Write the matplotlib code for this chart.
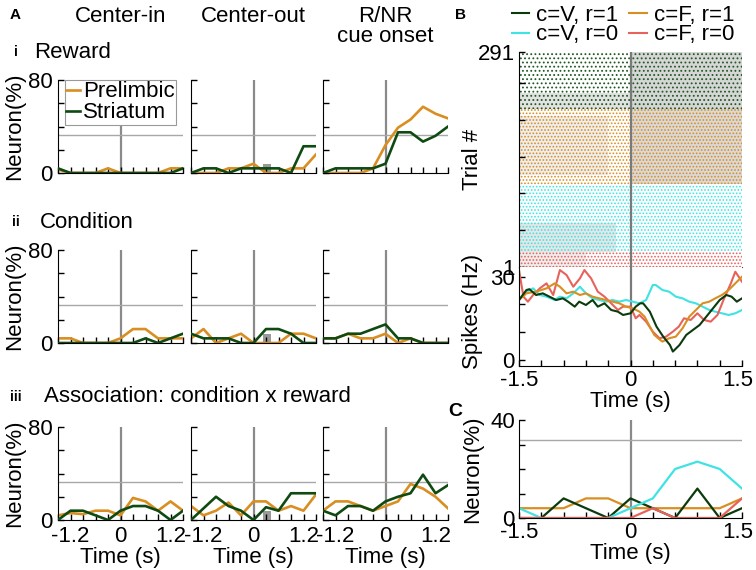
import numpy as np
import matplotlib
matplotlib.use('Agg')
import matplotlib.pyplot as plt
from matplotlib.patches import Rectangle
from matplotlib.lines import Line2D
from matplotlib.transforms import ScaledTranslation

plt.rcParams['font.family'] = ['Liberation Sans', 'DejaVu Sans']
plt.rcParams['font.size'] = 16
plt.rcParams['axes.unicode_minus'] = False
plt.rcParams['hatch.linewidth'] = 0.8

# ---- data ----
t_bins = [-1.5, -1.2, -0.9, -0.6, -0.3, 0.0, 0.3, 0.6, 0.9, 1.2, 1.5]
row_titles = ['Reward', 'Condition', 'Association: condition x reward']
row_numerals = ['i', 'ii', 'iii']
col_titles = ['Center-in', 'Center-out', 'R/NR\ncue onset']

# prelimbic / striatum % of neurons, rows = reward, condition, association; cols = center-in, center-out, cue
prelimbic = [
    [[3, 0, 0, 0, 4, 0, 0, 0, 0, 4, 4],
     [0, 0, 0, 4, 4, 8, 0, 0, 4, 4, 16],
     [0, 0, 0, 0, 4, 24, 39, 46, 57, 51, 47]],
    [[4, 4, 0, 0, 0, 4, 12, 12, 4, 4, 4],
     [4, 12, 0, 4, 8, 0, 0, 0, 8, 8, 4],
     [4, 4, 8, 4, 4, 8, 0, 4, 0, 0, 0]],
    [[4, 6, 5, 8, 8, 4, 19, 16, 8, 16, 8],
     [12, 4, 8, 15, 4, 16, 16, 8, 12, 8, 22],
     [8, 16, 16, 12, 8, 12, 16, 31, 27, 20, 10]],
]
striatum = [
    [[4, 0, 0, 0, 0, 0, 0, 0, 0, 0, 4],
     [0, 4, 4, 0, 4, 4, 4, 4, 0, 23, 23],
     [0, 4, 4, 4, 4, 8, 35, 35, 27, 32, 40]],
    [[0, 0, 0, 0, 0, 0, 0, 4, 0, 4, 8],
     [8, 4, 4, 4, 0, 0, 12, 12, 8, 0, 0],
     [4, 4, 8, 8, 12, 16, 4, 4, 0, 0, 0]],
    [[0, 8, 8, 4, 0, 8, 12, 12, 8, 0, 8],
     [0, 10, 20, 12, 8, 0, 11, 8, 23, 23, 23],
     [8, 4, 12, 12, 8, 16, 20, 23, 39, 23, 30]],
]
threshold_A = 33
threshold_C = 32
bar_window = (0.23, 0.41)   # gray bar in the center-out column
bar_height = 8

# panel B: trial blocks (bottom to top) and PSTH
block_names = ['c=F, r=0', 'c=V, r=0', 'c=F, r=1', 'c=V, r=1']
block_trials = [20, 93, 101, 77]
block_hatch = ['.....', '.....', '.....', '....']
# gray shading in the raster: (t_start, t_end, first trial, last trial, gray)
raster_shade = [
    (0.0, 1.5, 215, 291, '#d6d6d6'),
    (-1.5, 0.0, 215, 236, '#e2e2e2'),
    (0.0, 1.5, 114, 214, '#d9d9d9'),
    (-1.5, -0.3, 125, 205, '#eeeeee'),
    (-1.5, -0.2, 21, 60, '#e6e6e6'),
    (-1.5, -0.6, 1, 20, '#eeeeee'),
]

psth_t_green = [-1.5, -1.4, -1.36, -1.27, -1.18, -1.09, -1.0, -0.91, -0.84, -0.75, -0.69,
                -0.6, -0.51, -0.44, -0.35, -0.26, -0.17, -0.1, 0.0, 0.07, 0.13, 0.17,
                0.26, 0.35, 0.44, 0.53, 0.57, 0.66, 0.75, 0.84, 0.93, 1.02, 1.11, 1.2,
                1.29, 1.36, 1.43, 1.5]
psth_green = [21.6, 25.2, 25.5, 23.4, 24.0, 22.8, 21.6, 22.2, 21.0, 19.2, 21.0,
              19.8, 21.6, 19.2, 20.4, 18.0, 17.4, 16.2, 16.8, 19.2, 20.4, 20.4,
              17.4, 12.0, 8.4, 5.4, 3.0, 5.4, 9.0, 10.8, 12.6, 15.6, 18.6, 21.6,
              23.4, 22.8, 21.0, 22.2]
psth_t_orange = [-1.5, -1.4, -1.27, -1.13, -1.02, -0.95, -0.86, -0.77, -0.68, -0.6, -0.51,
                 -0.42, -0.33, -0.24, -0.15, -0.06, 0.03, 0.12, 0.19, 0.26, 0.32, 0.39,
                 0.43, 0.52, 0.61, 0.7, 0.79, 0.88, 0.97, 1.06, 1.14, 1.23, 1.32, 1.41, 1.5]
psth_orange = [21.6, 24.0, 24.6, 25.8, 27.6, 26.4, 24.0, 24.6, 23.4, 24.0, 22.8,
               22.2, 21.6, 21.0, 20.4, 19.2, 18.6, 17.4, 15.6, 12.0, 9.0, 7.4,
               6.6, 7.8, 8.4, 11.4, 15.6, 18.0, 20.4, 21.0, 22.2, 23.4, 25.2, 27.6, 30.0]
psth_t_red = [-1.5, -1.44, -1.38, -1.31, -1.22, -1.13, -1.04, -0.95, -0.86, -0.77, -0.68,
              -0.62, -0.53, -0.44, -0.35, -0.26, -0.17, -0.1, 0.0, 0.07, 0.12, 0.21,
              0.3, 0.39, 0.48, 0.57, 0.65, 0.72, 0.81, 0.9, 0.99, 1.08, 1.17, 1.26,
              1.35, 1.41, 1.5]
psth_red = [32.4, 22.8, 21.0, 23.4, 25.8, 27.6, 23.4, 32.4, 30.6, 26.4, 29.4,
            32.4, 29.4, 24.6, 22.8, 20.4, 18.0, 19.2, 19.2, 15.0, 16.2, 13.8,
            10.2, 7.8, 8.4, 10.2, 12.0, 15.0, 14.4, 16.8, 14.4, 13.8, 16.2, 22.2,
            27.6, 31.8, 28.2]
psth_t_cyan = [-1.5, -1.4, -1.31, -1.22, -1.13, -1.02, -0.95, -0.86, -0.77, -0.68, -0.6,
               -0.51, -0.42, -0.33, -0.24, -0.15, -0.06, 0.03, 0.12, 0.21, 0.3, 0.34,
               0.43, 0.52, 0.61, 0.7, 0.79, 0.88, 0.97, 1.06, 1.14, 1.23, 1.32, 1.41, 1.5]
psth_cyan = [21.6, 24.6, 25.8, 23.4, 22.8, 21.6, 22.8, 22.2, 24.0, 26.4, 24.0,
             22.2, 21.6, 21.0, 21.6, 21.0, 21.6, 21.0, 20.4, 21.6, 27.0, 27.0,
             25.2, 24.6, 22.8, 22.2, 21.0, 20.4, 19.2, 18.0, 17.4, 16.8, 16.2, 16.8, 18.0]

# panel C: % neurons per trial type
c_green = [0, 0, 8, 4, 0, 8, 4, 0, 12, 0, 4]
c_orange = [4, 4, 4, 8, 8, 4, 4, 4, 4, 4, 8]
c_cyan = [4, 0, 0, 0, 0, 4, 8, 20, 23, 20, 12]
c_red = [0, 0, 0, 0, 0, 0, 4, 0, 0, 0, 8]

# ---- style ----
ORANGE = '#d98e22'
GREEN = '#0f4a12'
DKGREEN = '#0b3a0d'
CYAN = '#3fe3e3'
RED = '#e8625c'
VLINE = '#8a8a8a'
HLINE = '#a8a8a8'
block_colors = [RED, CYAN, ORANGE, '#1f5a22']

W, H = 756, 570
fig = plt.figure(figsize=(W / 100, H / 100), dpi=100)


def px_axes(left, top, right, bottom):
    return fig.add_axes([left / W, 1 - bottom / H, (right - left) / W, (bottom - top) / H])


def style_axes(ax):
    for s in ['top', 'right']:
        ax.spines[s].set_visible(False)
    ax.tick_params(direction='in', length=4, width=1, pad=3, labelsize=16)


def tick_text(vals, shown):
    return [('%g' % v) if v in shown else '' for v in vals]


def nudge_last_xlabel(ax, dx_px):
    lbl = ax.get_xticklabels()[-1]
    lbl.set_transform(lbl.get_transform() + ScaledTranslation(dx_px / 100, 0, fig.dpi_scale_trans))


xt = np.round(np.arange(-1.5, 1.51, 0.3), 1)

# ---- panel A ----
col_left = [58, 191, 323]
row_top = [80, 250, 427]
aw, ah = 125, 93
for r in range(3):
    for c in range(3):
        ax = px_axes(col_left[c], row_top[r], col_left[c] + aw, row_top[r] + ah)
        style_axes(ax)
        ax.axvline(0, color=VLINE, lw=1.6, zorder=1)
        ax.axhline(threshold_A, color=HLINE, lw=1.0, zorder=1)
        if c == 1:
            ax.add_patch(Rectangle((bar_window[0], 0), bar_window[1] - bar_window[0], bar_height,
                                   color='#999999', lw=0, zorder=1.5))
        ax.plot(t_bins, prelimbic[r][c], color=ORANGE, lw=1.9, label='Prelimbic', zorder=2)
        ax.plot(t_bins, striatum[r][c], color=GREEN, lw=1.9, label='Striatum', zorder=3)
        ax.set_xlim(-1.5, 1.5)
        ax.set_ylim(0, 80)
        ax.set_yticks([0, 20, 40, 60, 80])
        ax.set_xticks(xt)
        if c == 0:
            ax.set_yticklabels(['0', '', '', '', '80'])
            ax.set_ylabel('Neuron(%)')
            ax.yaxis.set_label_coords(-0.265, 0.5)
        else:
            ax.set_yticklabels([])
        if r == 2:
            ax.set_xticklabels(tick_text(xt, [-1.2, 0.0, 1.2]))
            ax.tick_params(axis='x', pad=4)
            ax.set_xlabel('Time (s)')
            ax.xaxis.set_label_coords(0.5, -0.29)
        else:
            ax.set_xticklabels([])
        ax.tick_params(axis='y', pad=4)
        if r == 0 and c == 0:
            leg = ax.legend(loc='upper left', bbox_to_anchor=(0.04, 1.02), handlelength=0.6,
                            handletextpad=0.15, borderpad=0.05, labelspacing=0.0,
                            borderaxespad=0.1, fontsize=16, fancybox=False, framealpha=1)
            leg.get_frame().set_edgecolor('#999999')
            leg.get_frame().set_linewidth(0.8)
            leg.set_zorder(5)

for c, title in enumerate(col_titles):
    cx = col_left[c] + aw / 2
    fig.text(cx / W, 1 - 6 / H, title, ha='center', va='top', fontsize=16, linespacing=0.95)

for r in range(3):
    y = [52, 222, 397][r]
    fig.text(16 / W, 1 - y / H, row_numerals[r], ha='center', va='center', fontsize=10,
             fontweight='bold')
    fig.text([34, 40, 44][r] / W, 1 - y / H, row_titles[r], ha='left', va='center', fontsize=16)

fig.text(10 / W, 1 - 15 / H, 'A', fontsize=11, fontweight='bold', ha='left', va='center')
fig.text(455 / W, 1 - 15 / H, 'B', fontsize=11, fontweight='bold', ha='left', va='center')
fig.text(448 / W, 1 - 412 / H, 'C', fontsize=14, fontweight='bold', ha='left', va='center')

# ---- panel B raster ----
axr = px_axes(519, 52, 742, 267)
style_axes(axr)
bounds = np.concatenate([[0], np.cumsum(block_trials)])
for t0, t1, lo, hi, g in raster_shade:
    axr.add_patch(Rectangle((t0, lo - 0.5), t1 - t0, hi - lo + 1, facecolor=g, lw=0, zorder=0))
for i, col in enumerate(block_colors):
    lo, hi = bounds[i] + 1, bounds[i + 1]
    axr.add_patch(Rectangle((-1.5, lo - 0.5), 3.0, hi - lo + 1, facecolor='none',
                            edgecolor=col, hatch=block_hatch[i], lw=0, zorder=1))
axr.axvline(0, color='#7a7a7a', lw=1.6, zorder=3)
axr.set_xlim(-1.5, 1.5)
axr.set_ylim(0.5, 291.5)
axr.set_yticks([1, 50, 100, 150, 200, 250, 291])
axr.set_yticklabels(['1', '', '', '', '', '', '291'])
axr.set_xticks([])
axr.set_ylabel('Trial #')
axr.yaxis.set_label_coords(-0.16, 0.5)
axr.spines['bottom'].set_color('#444444')

# ---- panel B PSTH ----
axp = px_axes(519, 267, 742, 366)
style_axes(axp)
axp.axvline(0, color='#7a7a7a', lw=1.6, zorder=1)
axp.plot(psth_t_cyan, psth_cyan, color=CYAN, lw=1.5)
axp.plot(psth_t_red, psth_red, color=RED, lw=1.5)
axp.plot(psth_t_orange, psth_orange, color=ORANGE, lw=1.5)
axp.plot(psth_t_green, psth_green, color=DKGREEN, lw=1.5)
axp.set_xlim(-1.5, 1.5)
axp.set_ylim(-2.2, 33.5)
axp.set_yticks([0, 10, 20, 30])
axp.set_yticklabels(['0', '', '', '30'])
axp.set_xticks(xt)
axp.set_xticklabels(tick_text(xt, [-1.5, 0.0, 1.5]))
nudge_last_xlabel(axp, -4)
axp.set_xlabel('Time (s)')
axp.xaxis.set_label_coords(0.5, -0.25)
axp.set_ylabel('Spikes (Hz)')
axp.yaxis.set_label_coords(-0.16, 0.55)

leg_handles = [Line2D([], [], color=DKGREEN, lw=1.5), Line2D([], [], color=CYAN, lw=1.5),
               Line2D([], [], color=ORANGE, lw=1.5), Line2D([], [], color=RED, lw=1.5)]
fig.legend(leg_handles, [block_names[3], block_names[1], block_names[2], block_names[0]],
           ncol=2, loc='center', bbox_to_anchor=(623 / W, 1 - 25 / H), frameon=False,
           fontsize=16, handlelength=0.8, handletextpad=0.3, columnspacing=0.5,
           labelspacing=-0.05, borderpad=0)

# ---- panel C ----
axc = px_axes(519, 420, 742, 518)
style_axes(axc)
axc.axvline(0, color=VLINE, lw=1.6, zorder=1)
axc.axhline(threshold_C, color=HLINE, lw=1.0, zorder=1)
axc.plot(t_bins, c_orange, color=ORANGE, lw=1.6)
axc.plot(t_bins, c_green, color=DKGREEN, lw=1.6)
axc.plot(t_bins, c_cyan, color=CYAN, lw=1.6)
axc.plot(t_bins, c_red, color=RED, lw=1.6)
axc.set_xlim(-1.5, 1.5)
axc.set_ylim(0, 40)
axc.set_yticks([0, 10, 20, 30, 40])
axc.set_yticklabels(['0', '', '', '', '40'])
axc.set_xticks(xt)
axc.set_xticklabels(tick_text(xt, [-1.5, 0.0, 1.5]))
nudge_last_xlabel(axc, -4)
axc.set_xlabel('Time (s)')
axc.xaxis.set_label_coords(0.5, -0.25)
axc.set_ylabel('Neuron(%)')
axc.yaxis.set_label_coords(-0.16, 0.5)

fig.savefig('out.png', dpi=100)
